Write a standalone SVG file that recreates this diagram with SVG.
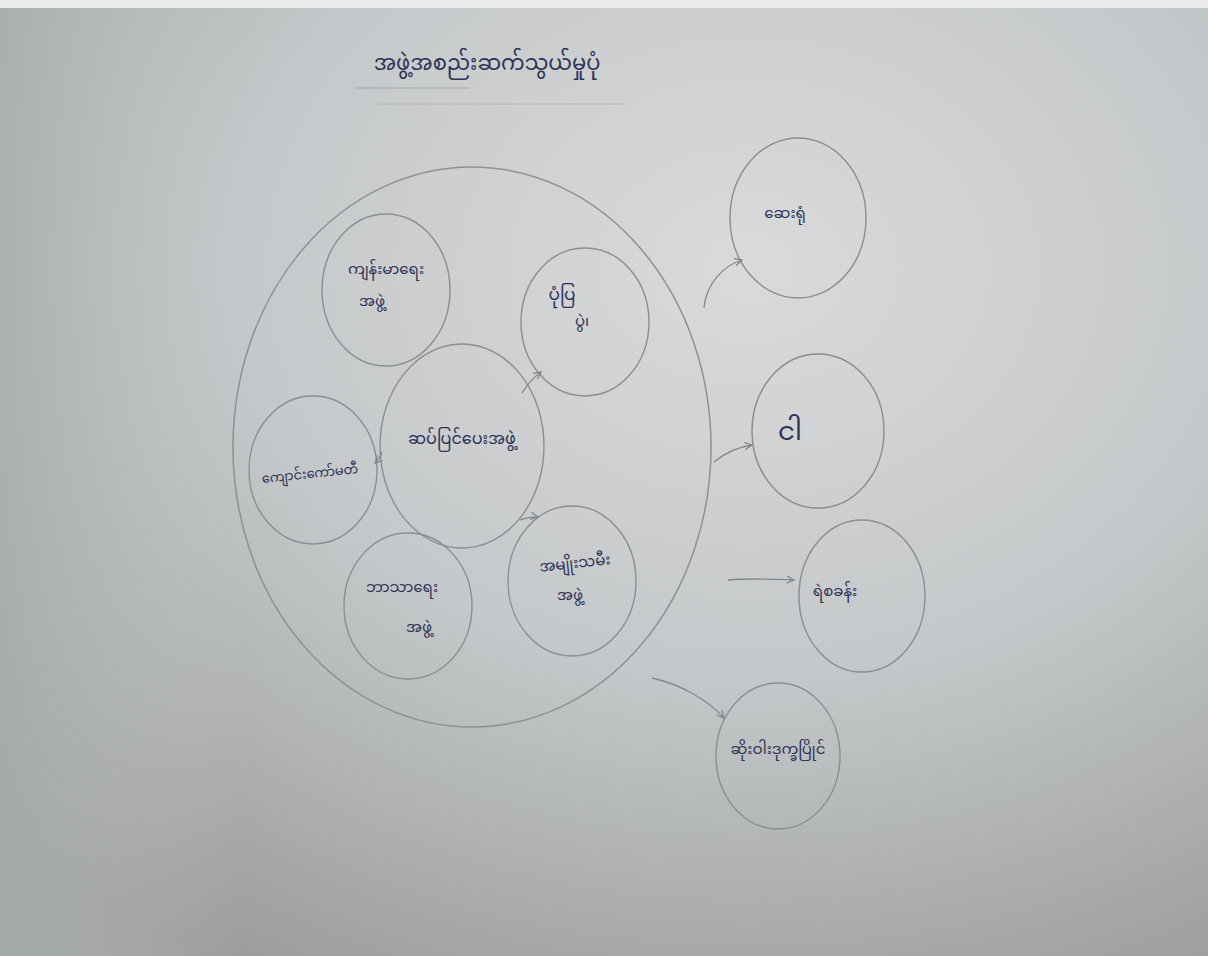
<svg xmlns="http://www.w3.org/2000/svg" width="1208" height="956" viewBox="0 0 1208 956">
<defs>
<radialGradient id="paper" cx="0.62" cy="0.28" r="0.85">
<stop offset="0" stop-color="#d9dadb"/>
<stop offset="0.5" stop-color="#c5c8ca"/>
<stop offset="1" stop-color="#9a9c99"/>
</radialGradient>
<linearGradient id="leftshade" x1="0" y1="0" x2="1" y2="0">
<stop offset="0" stop-color="#a9afae" stop-opacity="0.7"/>
<stop offset="0.2" stop-color="#c8ccce" stop-opacity="0"/>
</linearGradient>
<marker id="ah" viewBox="0 0 10 10" refX="9" refY="5" markerWidth="9" markerHeight="9" orient="auto" markerUnits="userSpaceOnUse">
<path d="M1,1 L9,5 L1,9" fill="none" stroke="#7f8286" stroke-width="1.3"/>
</marker>
</defs>
<style>
.c{fill:none;stroke:#8b8e92;stroke-width:1.4}
.big{fill:none;stroke:#8e9194;stroke-width:1.5}
.t{font-family:"Noto Sans Myanmar","Padauk","Myanmar Text","Noto Sans",sans-serif;fill:#2f3258;font-size:15px;text-anchor:middle}
.a{fill:none;stroke:#85888c;stroke-width:1.3;marker-end:url(#ah)}
.u{stroke:#a3a6a9;stroke-width:1}
</style>
<rect width="1208" height="956" fill="url(#paper)"/>
<rect width="1208" height="956" fill="url(#leftshade)"/>
<rect x="0" y="0" width="1208" height="8" fill="#e9eaea"/>

<g id="title">
<text class="t" x="487" y="70" style="font-size:21px">အဖွဲ့အစည်းဆက်သွယ်မှုပုံ</text>
<line class="u" x1="355" y1="88" x2="470" y2="88"/>
<line class="u" x1="378" y1="104" x2="625" y2="104" stroke-opacity="0.6"/>
</g>

<g id="village">
<ellipse class="big" cx="472" cy="447" rx="239" ry="280"/>
</g>

<g id="n-topleft">
<ellipse class="c" cx="386" cy="290" rx="64" ry="76"/>
<text class="t" x="386" y="274">ကျန်းမာရေး</text>
<text class="t" x="372" y="306">အဖွဲ့</text>
</g>
<g id="n-topright">
<ellipse class="c" cx="585" cy="322" rx="64" ry="74"/>
<text class="t" x="562" y="300" style="font-size:17px">ပုံပြ</text>
<text class="t" x="582" y="326">ပွဲ၊</text>
</g>
<g id="n-center">
<ellipse class="c" cx="462" cy="446" rx="82" ry="102"/>
<text class="t" x="462" y="444" style="font-size:16px">ဆပ်ပြင်ပေးအဖွဲ့</text>
</g>
<g id="n-left">
<ellipse class="c" cx="313" cy="470" rx="64" ry="74"/>
<text class="t" x="310" y="478" style="font-size:13px" transform="rotate(-6 310 474)">ကျောင်းကော်မတီ</text>
</g>
<g id="n-bottomleft">
<ellipse class="c" cx="408" cy="606" rx="64" ry="73"/>
<text class="t" x="402" y="592">ဘာသာရေး</text>
<text class="t" x="419" y="632">အဖွဲ့</text>
</g>
<g id="n-bottomright">
<ellipse class="c" cx="572" cy="581" rx="64" ry="75"/>
<text class="t" x="575" y="568" transform="rotate(-6 575 564)">အမျိုးသမီး</text>
<text class="t" x="570" y="600">အဖွဲ့</text>
</g>

<g id="n-out1">
<ellipse class="c" cx="798" cy="218" rx="68" ry="80"/>
<text class="t" x="785" y="218">ဆေးရုံ</text>
</g>
<g id="n-out2">
<ellipse class="c" cx="818" cy="431" rx="66" ry="77"/>
<text class="t" x="790" y="440" style="font-size:26px">ငါ</text>
</g>
<g id="n-out3">
<ellipse class="c" cx="862" cy="596" rx="63" ry="76"/>
<text class="t" x="835" y="596">ရဲစခန်း</text>
</g>
<g id="n-out4">
<ellipse class="c" cx="778" cy="756" rx="62" ry="73"/>
<text class="t" x="778" y="754">ဆိုးဝါးဒုက္ခပြိုင်</text>
</g>

<g id="connectors">
<path class="a" d="M704,308 C706,285 722,266 742,260"/>
<path class="a" d="M714,462 C726,452 738,447 752,445"/>
<path class="a" d="M728,580 C750,578 772,579 794,580"/>
<path class="a" d="M652,678 C680,684 708,700 724,718"/>
<path class="a" d="M522,393 C527,385 533,378 541,372"/>
<path class="a" d="M382,452 C381,456 379,459 375,463"/>
<path class="a" d="M520,520 C526,518 532,516 538,517"/>
</g>
</svg>
